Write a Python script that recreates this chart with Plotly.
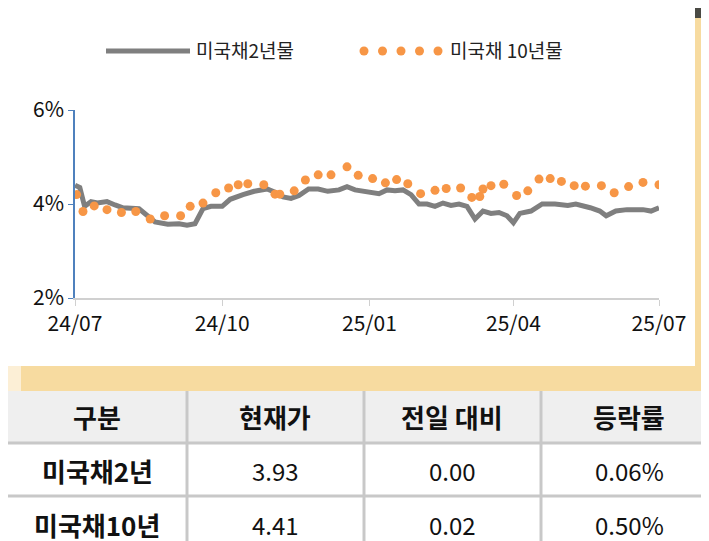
import plotly.graph_objects as go
import pandas as pd

W, H = 709, 541
start = pd.Timestamp("2024-07-01")

# 미국채 2년물 (day offset, value)
y2_days = [0,3,6,10,14,20,25,30,40,45,50,58,65,70,75,80,85,92,97,105,112,120,125,130,135,140,146,152,158,165,170,175,180,190,195,200,205,210,215,220,225,230,235,240,245,250,255,260,265,270,274,278,285,292,300,308,313,318,322,328,332,338,345,355,360,365]
y2_vals = [4.40,4.35,3.95,4.05,4.02,4.05,3.98,3.92,3.90,3.75,3.62,3.57,3.58,3.55,3.58,3.90,3.95,3.95,4.10,4.20,4.27,4.32,4.25,4.15,4.12,4.18,4.32,4.32,4.27,4.30,4.37,4.30,4.28,4.22,4.30,4.28,4.30,4.20,4.00,4.00,3.95,4.02,3.97,4.00,3.95,3.68,3.85,3.80,3.82,3.75,3.60,3.80,3.85,4.00,4.00,3.97,4.00,3.97,3.92,3.85,3.75,3.85,3.88,3.88,3.85,3.92]
# 미국채 10년물
y10_days = [1,5,12,20,29,38,47,56,66,72,80,88,96,102,108,118,125,128,137,144,152,160,170,177,186,194,201,208,216,225,232,241,248,253,255,260,268,276,283,290,297,304,312,319,329,337,346,355,365]
y10_vals = [4.20,3.84,3.96,3.88,3.82,3.84,3.68,3.75,3.75,3.95,4.02,4.24,4.34,4.41,4.43,4.41,4.21,4.21,4.28,4.51,4.62,4.62,4.79,4.61,4.54,4.45,4.52,4.43,4.22,4.29,4.33,4.34,4.14,4.16,4.32,4.39,4.42,4.18,4.28,4.53,4.54,4.48,4.39,4.38,4.39,4.24,4.37,4.46,4.41]
tick_vals = ["2024-07-01","2024-10-01","2025-01-01","2025-04-01","2025-07-01"]
tick_text = ["24/07","24/10","25/01","25/04","25/07"]

headers = ["구분","현재가","전일 대비","등락률"]
rows = [["미국채2년","3.93","0.00","0.06%"],["미국채10년","4.41","0.02","0.50%"]]

x2 = [start + pd.Timedelta(days=d) for d in y2_days]
x10 = [start + pd.Timedelta(days=d) for d in y10_days]

fig = go.Figure()
fig.add_trace(go.Scatter(x=x2, y=y2_vals, mode="lines", line=dict(color="#7f7f7f", width=5), showlegend=False))
fig.add_trace(go.Scatter(x=x10, y=y10_vals, mode="markers", marker=dict(color="#f79646", size=9), showlegend=False))

shapes, ann = [], []
def px(x): return x / W
def py(y): return 1 - y / H
def rect(x0, y0, x1, y1, color):
    shapes.append(dict(type="rect", xref="paper", yref="paper", x0=px(x0), x1=px(x1), y0=py(y1), y1=py(y0),
                       fillcolor=color, line=dict(width=0), layer="below"))
def text(x, y, t, size, anchor="center", color="#111"):
    ann.append(dict(x=px(x), y=py(y), xref="paper", yref="paper", text=t, showarrow=False,
                    xanchor=anchor, yanchor="middle",
                    font=dict(size=size, color=color, family="Noto Sans CJK KR")))
# backgrounds
rect(687, 0, 709, 360, "#f7dba0")
rect(0, 358, 709, 383, "#f7dba0")
rect(0, 358, 13, 383, "#fcefd6")
rect(687, 0, 709, 10, "#4a4a44")
# table
rect(0, 383, 709, 435, "#efefef")
for yl in [435, 488]:
    shapes.append(dict(type="line", xref="paper", yref="paper", x0=0, x1=1, y0=py(yl), y1=py(yl), line=dict(color="#c8c8c8", width=3)))
for xl in [179, 356, 533]:
    shapes.append(dict(type="line", xref="paper", yref="paper", x0=px(xl), x1=px(xl), y0=py(383), y1=0, line=dict(color="#c8c8c8", width=3)))
cx = [89, 267, 444, 621]
for i, h in enumerate(headers):
    text(cx[i], 408, f"<b>{h}</b>", 26)
for r, row in enumerate(rows):
    yc = 462 + r * 54
    for i, v in enumerate(row):
        text(cx[i], yc, f"<b>{v}</b>" if i == 0 else v, 26 if i == 0 else 24)
# legend
shapes.append(dict(type="line", xref="paper", yref="paper", x0=px(98), x1=px(182), y0=py(43), y1=py(43), line=dict(color="#7f7f7f", width=5)))
text(186, 42, "미국채2년물", 19, "left", "#222")
for k in range(5):
    xc = 356 + k * 18.5
    shapes.append(dict(type="circle", xref="paper", yref="paper", x0=px(xc-4.5), x1=px(xc+4.5), y0=py(47.5), y1=py(38.5),
                       fillcolor="#f79646", line=dict(width=0)))
text(440, 42, "미국채 10년물", 19, "left", "#222")

fig.update_layout(
    width=W, height=H, margin=dict(l=0, r=0, t=0, b=0, autoexpand=False),
    paper_bgcolor="#ffffff", plot_bgcolor="rgba(0,0,0,0)",
    shapes=shapes, annotations=ann,
    xaxis=dict(domain=[px(67), px(651)], range=["2024-07-01", "2025-07-01"], tickvals=tick_vals, ticktext=tick_text,
               automargin=False, showgrid=False, showline=True, linecolor="#d0d0d0", linewidth=1.5, ticks="outside", ticklen=6,
               tickcolor="#d0d0d0", tickfont=dict(size=21, color="#111", family="Noto Sans CJK KR"), zeroline=False),
    yaxis=dict(domain=[py(290), py(102)], range=[2, 6], tickvals=[2, 4, 6], ticktext=["2%", "4%", "6%"],
               automargin=False, showgrid=False, showline=True, linecolor="#4f81bd", linewidth=1.5, ticks="outside", ticklen=5,
               tickcolor="#4f81bd", tickfont=dict(size=21, color="#111", family="Noto Sans CJK KR"), zeroline=False),
)
fig.write_html("out.html")
